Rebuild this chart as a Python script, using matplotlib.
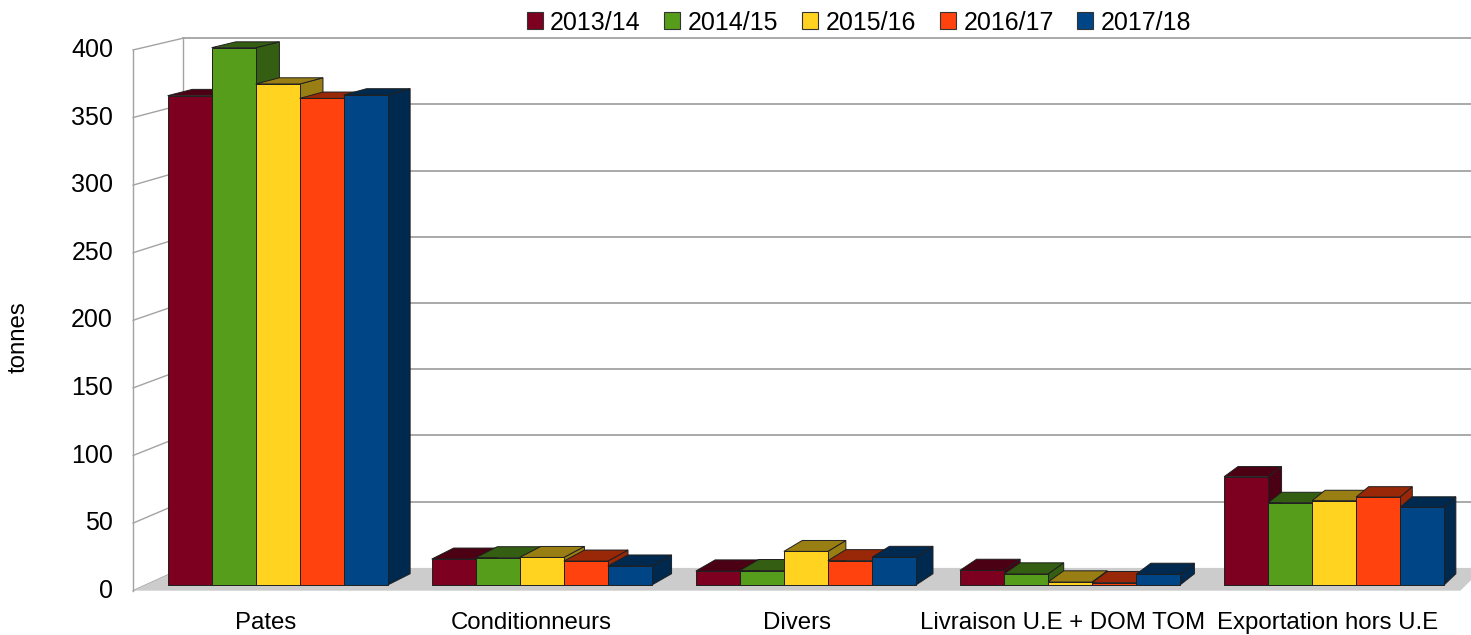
import numpy as np
import matplotlib.pyplot as plt
from matplotlib.patches import Polygon, Patch

plt.rcParams['font.family'] = ['Liberation Sans', 'DejaVu Sans']

# données (tonnes)
categories = ['Pates', 'Conditionneurs', 'Divers', 'Livraison U.E + DOM TOM', 'Exportation hors U.E']
seasons = ['2013/14', '2014/15', '2015/16', '2016/17', '2017/18']
v_2013_14 = [363.8, 19.3, 10.4, 10.9, 80.5]
v_2014_15 = [399.5, 20.3, 10.7, 8.2, 61.2]
v_2015_16 = [372.5, 20.5, 25.0, 2.2, 62.7]
v_2016_17 = [361.8, 17.8, 18.1, 1.7, 65.4]
v_2017_18 = [364.3, 14.1, 20.6, 7.9, 57.8]
yticks = [0, 50, 100, 150, 200, 250, 300, 350, 400]

series = [v_2013_14, v_2014_15, v_2015_16, v_2016_17, v_2017_18]
colors = ['#7e0021', '#579d1c', '#ffd320', '#ff420e', '#004586']

# pseudo perspective : homothetie vers le point de fuite (coord. donnees)
VP = np.array([8.81, 829.0])
S_FRONT = 1.0051     # bord avant des murs
S_BAR = 1.0          # face avant des barres
S_BARBACK = 0.9899   # face arriere des barres
S_BACK = 0.98466     # mur du fond


def proj(x, y, s):
    return (VP[0] + s * (x - VP[0]), VP[1] + s * (y - VP[1]))


def shade(c, f=0.6):
    r, g, b = plt.matplotlib.colors.to_rgb(c)
    return (r * f, g * f, b * f)


fig = plt.figure(figsize=(14.71, 6.35), dpi=100)
ax = fig.add_axes([0, 0, 1, 1])
ax.set_xlim(-1.0515, 4.5184)
ax.set_ylim(-37.17, 434.94)
ax.axis('off')

grid_c = '#a3a3a3'
x_left, x_right = -0.5, len(categories) - 0.5
ymax = yticks[-1]

# mur du fond
for v in yticks[1:]:
    p0 = proj(x_left, v, S_BACK)
    p1 = proj(x_right, v, S_BACK)
    ax.plot([p0[0], p1[0]], [p0[1], p1[1]], color=grid_c, lw=1.3, zorder=1)
p0, p1 = proj(x_left, 0, S_BACK), proj(x_left, ymax, S_BACK)
ax.plot([p0[0], p1[0]], [p0[1], p1[1]], color=grid_c, lw=1.0, zorder=1)

# mur de gauche
p0, p1 = proj(x_left, 0, S_FRONT), proj(x_left, ymax, S_FRONT)
ax.plot([p0[0], p1[0]], [p0[1], p1[1]], color=grid_c, lw=1.0, zorder=1)
for v in yticks:
    p0 = proj(x_left, v, S_FRONT)
    p1 = proj(x_left, v, S_BACK)
    ax.plot([p0[0], p1[0]], [p0[1], p1[1]], color=grid_c, lw=1.0, zorder=1)
    ax.annotate(str(v), p0, xytext=(-20, 0), textcoords='offset pixels',
                ha='right', va='center', fontsize=18, color='black')

# sol
floor = [proj(x_left, 0, S_FRONT), proj(x_right, 0, S_FRONT),
         proj(x_right, 0, S_BACK), proj(x_left, 0, S_BACK)]
ax.add_patch(Polygon(floor, closed=True, facecolor='#cccccc', edgecolor='none', zorder=2))

# barres
bw = 1 / 6
edge = '#1f1f1f'
for i, cat in enumerate(categories):
    for j, vals in enumerate(series):
        h = vals[i]
        x0 = i - 2.5 * bw + j * bw
        x1 = x0 + bw
        z = 3 + i * 10 + j
        side = [proj(x1, 0, S_BAR), proj(x1, h, S_BAR), proj(x1, h, S_BARBACK), proj(x1, 0, S_BARBACK)]
        top = [proj(x0, h, S_BAR), proj(x1, h, S_BAR), proj(x1, h, S_BARBACK), proj(x0, h, S_BARBACK)]
        front = [(x0, 0), (x1, 0), (x1, h), (x0, h)]
        ax.add_patch(Polygon(side, closed=True, facecolor=shade(colors[j]), edgecolor=edge, lw=0.7, zorder=z))
        ax.add_patch(Polygon(top, closed=True, facecolor=shade(colors[j]), edgecolor=edge, lw=0.7, zorder=z))
        ax.add_patch(Polygon(front, closed=True, facecolor=colors[j], edgecolor=edge, lw=0.7, zorder=z))
    lp = proj(i, 0, S_FRONT)
    ax.annotate(cat, lp, xytext=(0, -32), textcoords='offset pixels',
                ha='center', va='center', fontsize=17.3, color='black')

fig.text(19 / 1471, 1 - 337 / 635, 'tonnes', rotation=90, ha='center', va='center', fontsize=17.3)

handles = [Patch(facecolor=c, edgecolor='#333333', lw=0.8) for c in colors]
fig.legend(handles, seasons, loc='center', bbox_to_anchor=(859 / 1471, 1 - 22.5 / 635),
           ncol=5, frameon=False, fontsize=18, handlelength=0.64, handleheight=0.64,
           handletextpad=0.3, columnspacing=0.95, borderpad=0, borderaxespad=0)

fig.savefig('out.png', dpi=100)
